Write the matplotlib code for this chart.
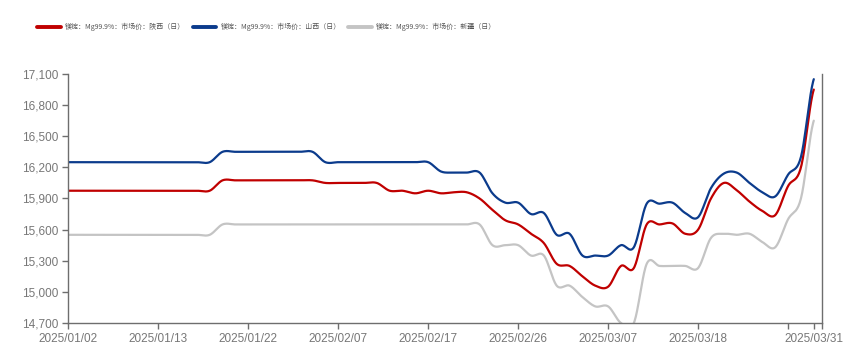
import numpy as np
import matplotlib.pyplot as plt
from matplotlib.ticker import FuncFormatter

# 交易日
dates = (
    ["2025/01/" + d for d in ["02", "03", "06", "07", "08", "09", "10", "13", "14", "15",
                              "16", "17", "20", "21", "22", "23", "24", "26", "27"]]
    + ["2025/02/" + d for d in ["05", "06", "07", "08", "10", "11", "12", "13", "14", "17",
                                "18", "19", "20", "21", "24", "25", "26", "27", "28"]]
    + ["2025/03/" + d for d in ["03", "04", "05", "06", "07", "10", "11", "12", "13", "14",
                                "17", "18", "19", "20", "21", "24", "25", "26", "27", "28", "31"]]
)

# 镁锭 Mg99.9% 市场价（元/吨）
shaanxi = [15975] * 12 + [16075] * 8 + [16050] * 5 + [
    15975, 15975, 15950, 15975, 15950, 15960, 15960, 15900, 15790, 15690,
    15650, 15560, 15470, 15270, 15250, 15150, 15060, 15050, 15250, 15230,
    15650, 15650, 15660, 15560, 15600, 15900, 16050, 15980, 15870, 15780,
    15740, 16020, 16200, 16950]
shanxi = [16250] * 12 + [16350] * 8 + [16250] * 9 + [
    16160, 16150, 16150, 16150, 15950, 15860, 15860, 15750, 15760, 15550,
    15560, 15350, 15350, 15350, 15450, 15430, 15850, 15850, 15860, 15760,
    15720, 16000, 16140, 16150, 16050, 15960, 15920, 16130, 16300, 17050]
xinjiang = [15550] * 12 + [15650] * 21 + [
    15450, 15450, 15450, 15350, 15350, 15060, 15060, 14950, 14860, 14860,
    14700, 14700, 15270, 15250, 15250, 15250, 15230, 15520, 15560, 15550,
    15560, 15480, 15430, 15700, 15900, 16650]

series = [
    ("镁锭：Mg99.9%：市场价：陕西（日）", shaanxi, "#c00000"),
    ("镁锭：Mg99.9%：市场价：山西（日）", shanxi, "#0b3b8c"),
    ("镁锭：Mg99.9%：市场价：新疆（日）", xinjiang, "#c4c4c4"),
]


def smooth(y, n=20):
    # Catmull-Rom 平滑曲线
    y = np.asarray(y, dtype=float)
    p = np.concatenate([[y[0]], y, [y[-1]]])
    xs, ys = [], []
    t = np.linspace(0, 1, n, endpoint=False)
    for i in range(len(y) - 1):
        p0, p1, p2, p3 = p[i], p[i + 1], p[i + 2], p[i + 3]
        m1 = (p2 - p0) / 2
        m2 = (p3 - p1) / 2
        h = (2*t**3 - 3*t**2 + 1) * p1 + (t**3 - 2*t**2 + t) * m1 \
            + (-2*t**3 + 3*t**2) * p2 + (t**3 - t**2) * m2
        xs.append(i + t)
        ys.append(h)
    xs.append([len(y) - 1])
    ys.append([y[-1]])
    return np.concatenate(xs), np.concatenate(ys)


fig = plt.figure(figsize=(8.64, 3.53), dpi=100)
ax = fig.add_axes([68.3/864, 1 - 323/353, (821.5 - 68.3)/864, (323 - 74)/353])

for name, vals, color in series:
    xs, ys = smooth(vals)
    ax.plot(xs, ys, color=color, lw=1.6, label=name, solid_capstyle='round')

ax.set_xlim(0, 58.6)
ax.set_ylim(14700, 17100)
ax.set_yticks(np.arange(14700, 17101, 300))
ax.yaxis.set_major_formatter(FuncFormatter(lambda v, p: f"{int(v):,}"))

tick_idx = [0, 7, 14, 21, 28, 35, 42, 49, 56, 58]
ax.set_xticks(tick_idx + [58.6])
ax.set_xticklabels([dates[i] if i != 56 else "" for i in tick_idx] + [""])

ax.spines["top"].set_visible(False)
for s in ["left", "bottom", "right"]:
    ax.spines[s].set_color("#6e6e6e")
    ax.spines[s].set_linewidth(1.0)
ax.tick_params(axis="both", colors="#6e6e6e", length=4, width=1.0,
               labelcolor="#777777", labelsize=8.5)
ax.tick_params(axis="x", pad=3)
ax.tick_params(axis="y", pad=3)
for lab in ax.get_xticklabels() + ax.get_yticklabels():
    lab.set_fontfamily("Liberation Sans")

leg = fig.legend(loc="upper left", bbox_to_anchor=(37/864, 1 - 23/353), ncol=3,
                 frameon=False, handlelength=3.4, handletextpad=0.6,
                 columnspacing=1.1, borderaxespad=0, borderpad=0,
                 prop={"family": ["Noto Sans CJK SC", "DejaVu Sans"], "size": 5.0})
for line in leg.get_lines():
    line.set_linewidth(2.8)
for txt in leg.get_texts():
    txt.set_color("#555555")

fig.savefig("out.png", dpi=100)
